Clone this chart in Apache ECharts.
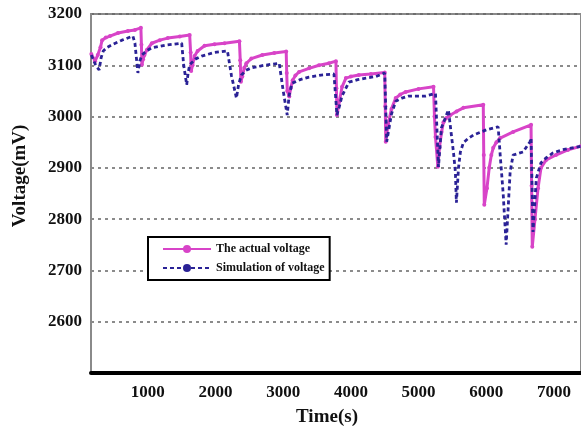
<!DOCTYPE html>
<html>
<head>
<meta charset="utf-8">
<script src="https://cdn.jsdelivr.net/npm/echarts@6/dist/echarts.min.js"></script>
<style>
html,body{margin:0;padding:0;background:#fff;}
#chart{width:581px;height:429px;}
</style>
</head>
<body>
<div id="chart"></div>
<script>
// Measured data (time in s, voltage in mV)
const actualTime = [165,220,260,300,324,380,441,559,706,809,897,905,912,
  930,950,985,1059,1176,1294,1471,1618,1632,1640,
  1660,1690,1735,1838,1985,2132,2353,2365,2375,
  2395,2425,2456,2529,2691,2868,3044,3052,3060,3090,
  3110,3140,3180,3235,3382,3529,3676,3779,3786,3794,
  3830,3870,3926,4000,4118,4294,4500,4508,4515,
  4550,4600,4662,4730,4809,5000,5221,5235,5250,5285,
  5309,5340,5368,5410,5471,5560,5662,5956,5963,5971,
  6010,6044,6075,6103,6150,6206,6397,6662,6670,6680,
  6720,6765,6809,6882,7029,7206,7395];
const actualVolt = [3122,3108,3120,3135,3149,3154,3157,3163,3167,3169,3173,3140,3101,
  3112,3120,3130,3143,3149,3153,3156,3159,3125,3089,
  3100,3118,3128,3138,3141,3143,3147,3110,3068,
  3078,3095,3104,3113,3120,3124,3127,3085,3050,3039,
  3055,3071,3080,3087,3094,3100,3104,3108,3055,3003,
  3030,3058,3075,3078,3081,3083,3086,3020,2951,
  2985,3015,3036,3043,3048,3054,3058,3000,2960,2902,
  2940,2970,2989,2997,3003,3010,3017,3023,2925,2828,
  2860,2900,2925,2939,2950,2958,2970,2984,2865,2746,
  2800,2860,2900,2915,2925,2935,2942];

const simTime = [165,230,280,310,341,400,471,618,779,809,853,
  880,912,980,1059,1250,1500,1530,1574,
  1595,1618,1700,1794,1985,2176,2235,2309,
  2340,2382,2450,2529,2720,2941,3000,3059,
  3088,3132,3250,3382,3559,3750,3794,
  3830,3868,3970,4100,4221,4368,4500,4529,
  4600,4662,4753,4853,5103,5250,5294,
  5338,5441,5485,5515,5544,5559,
  5590,5618,5662,5730,5809,6000,6176,6206,6250,6294,
  6353,6397,6544,6647,6662,6691,
  6740,6809,6890,6985,7150,7395];
const simVolt = [3120,3100,3091,3115,3128,3135,3140,3149,3157,3143,3085,
  3108,3120,3128,3134,3139,3143,3100,3062,
  3085,3101,3112,3118,3125,3128,3080,3036,
  3062,3081,3090,3095,3100,3104,3050,3003,
  3042,3065,3072,3077,3081,3083,3003,
  3020,3040,3067,3072,3075,3078,3085,2951,
  3005,3030,3036,3040,3040,3045,2902,
  2978,3013,2964,2931,2892,2832,
  2900,2931,2949,2957,2964,2974,2980,2925,2850,2750,
  2892,2925,2931,2951,2958,2775,
  2880,2910,2920,2929,2936,2942];

const xTicks = [1000,2000,3000,4000,5000,6000,7000];
const yMin = 2500, yMax = 3200, yStep = 100;

const actualData = actualTime.map((t,i)=>[t, actualVolt[i]]);
const simData = simTime.map((t,i)=>[t, simVolt[i]]);

const FONT = '"Liberation Serif","Times New Roman",serif';
const chart = echarts.init(document.getElementById('chart'), null, {renderer:'canvas'});
chart.setOption({
  animation:false,
  backgroundColor:'#fff',
  grid:{left:91, right:-2, top:14, bottom:56, show:true, borderColor:'#8a8a8a', borderWidth:2, backgroundColor:'transparent'},
  legend:{
    orient:'vertical', left:148, top:237,
    padding:[6,5,6,14], itemGap:7, itemWidth:48, itemHeight:10,
    borderColor:'#000', borderWidth:2, backgroundColor:'#fff',
    textStyle:{fontFamily:FONT, fontWeight:'bold', fontSize:12, color:'#111'},
    data:['The actual voltage','Simulation of voltage']
  },
  xAxis:{
    type:'value', min:160, max:7400,
    axisLine:{show:true, onZero:false, lineStyle:{color:'#000', width:4}},
    axisTick:{show:false},
    splitLine:{show:false},
    axisLabel:{customValues:xTicks, margin:11, fontFamily:FONT, fontWeight:'bold', fontSize:17, color:'#111',
      formatter:v=>String(v)}
  },
  yAxis:{
    type:'value', min:yMin, max:yMax, interval:yStep,
    axisLine:{show:true, lineStyle:{color:'#8a8a8a', width:2}},
    axisTick:{show:false},
    splitLine:{show:true, lineStyle:{color:'#666', type:[3,4], width:1.5}},
    axisLabel:{margin:9, fontFamily:FONT, fontWeight:'bold', fontSize:17, color:'#111',
      formatter:v=> v===yMin ? '' : String(v)}
  },
  graphic:[
    {type:'text', x:20, y:176, rotation:Math.PI/2,
     style:{text:'Voltage(mV)', font:'bold 19px '+FONT, fill:'#111', align:'center', verticalAlign:'middle'}},
    {type:'text', x:327, y:417,
     style:{text:'Time(s)', font:'bold 19px '+FONT, fill:'#111', align:'center', verticalAlign:'middle'}}
  ],
  series:[
    {name:'The actual voltage', type:'line', data:actualData, color:'#d844c8',
     lineStyle:{width:3, color:'#d844c8'}, symbol:'circle', symbolSize:4, showSymbol:true,
     itemStyle:{color:'#d844c8'}, z:2},
    {name:'Simulation of voltage', type:'line', data:simData, color:'#2a2296',
     lineStyle:{width:2.8, color:'#2a2296', type:[4,3]}, symbol:'none', showSymbol:false,
     itemStyle:{color:'#2a2296'}, z:3}
  ]
});
</script>
</body>
</html>
